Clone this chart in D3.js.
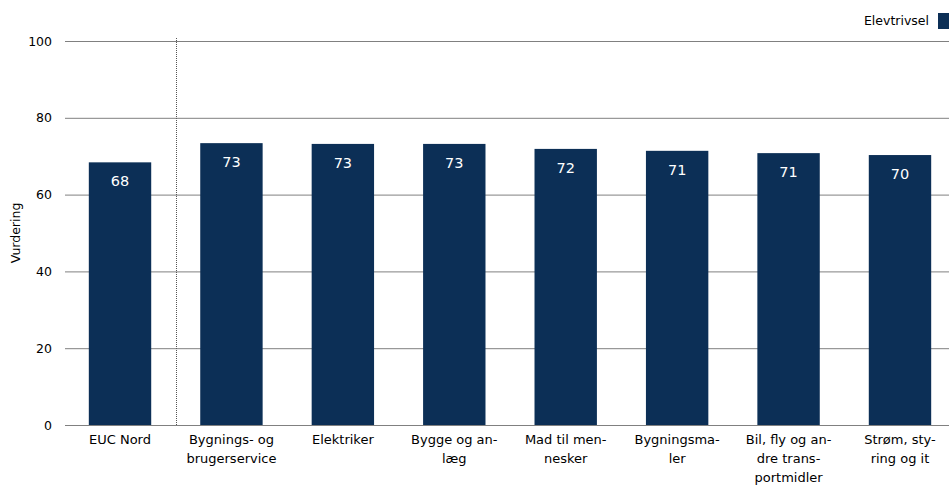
<!DOCTYPE html>
<html lang="da">
<head>
  <meta charset="UTF-8">
  <title>Elevtrivsel</title>
</head>
<body style="margin:0;background:#fff">
<style>
  text { font-family: "DejaVu Sans", sans-serif; }
</style>
<script src="https://d3js.org/d3.v7.min.js"></script>
<script>
  // data
  var categories = [
    ["EUC Nord"],
    ["Bygnings- og", "brugerservice"],
    ["Elektriker"],
    ["Bygge og an-", "læg"],
    ["Mad til men-", "nesker"],
    ["Bygningsma-", "ler"],
    ["Bil, fly og an-", "dre trans-", "portmidler"],
    ["Strøm, sty-", "ring og it"]
  ];
  var values = [68.4, 73.4, 73.2, 73.2, 71.9, 71.4, 70.8, 70.3];
  var labels = ["68", "73", "73", "73", "72", "71", "71", "70"];
  var yTicks = [0, 20, 40, 60, 80, 100];
  var seriesName = "Elevtrivsel";

  var w = 949, h = 487;
  var barColor = "#0c2f56";

  var svg = d3.select("body").append("svg")
    .attr("width", w)
    .attr("height", h);

  var keys = d3.range(categories.length);

  var x = d3.scaleBand()
    .domain(keys)
    .range([64.3, 955.7])
    .paddingInner(0.44)
    .paddingOuter(0.22);

  var y = d3.scaleLinear()
    .domain([0, 100])
    .range([425, 41]);

  // gridlines
  svg.append("g")
    .selectAll("line")
    .data(yTicks)
    .enter()
    .append("line")
    .attr("x1", 65)
    .attr("x2", w)
    .attr("y1", d => y(d) + 0.5)
    .attr("y2", d => y(d) + 0.5)
    .attr("stroke", "#808080")
    .attr("stroke-width", 1);

  // y tick labels
  svg.append("g")
    .selectAll("text")
    .data(yTicks)
    .enter()
    .append("text")
    .attr("x", 52)
    .attr("y", d => y(d) + 4.5)
    .attr("text-anchor", "end")
    .attr("font-size", "12.5px")
    .attr("fill", "#000")
    .text(d => d);

  // y axis title
  svg.append("text")
    .attr("transform", "translate(20," + 233 + ") rotate(-90)")
    .attr("text-anchor", "middle")
    .attr("font-size", "12.5px")
    .attr("fill", "#000")
    .text("Vurdering");

  // dotted separator between EUC Nord and the rest
  var sepX = (x(0) + x.bandwidth() + x(1)) / 2;
  svg.append("line")
    .attr("x1", Math.round(sepX) + 0.5)
    .attr("x2", Math.round(sepX) + 0.5)
    .attr("y1", 38)
    .attr("y2", y(0))
    .attr("stroke", "#555")
    .attr("stroke-width", 1)
    .attr("stroke-dasharray", "1,1");

  // bars
  svg.append("g")
    .selectAll("rect")
    .data(keys)
    .enter()
    .append("rect")
    .attr("x", d => x(d))
    .attr("y", d => y(values[d]))
    .attr("width", x.bandwidth())
    .attr("height", d => y(0) - y(values[d]))
    .attr("fill", barColor);

  // value labels
  svg.append("g")
    .selectAll("text")
    .data(keys)
    .enter()
    .append("text")
    .attr("x", d => x(d) + x.bandwidth() / 2)
    .attr("y", d => y(values[d]) + 24)
    .attr("text-anchor", "middle")
    .attr("font-size", "14.5px")
    .attr("fill", "#fff")
    .text(d => labels[d]);

  // category labels
  var cats = svg.append("g")
    .selectAll("text")
    .data(keys)
    .enter()
    .append("text")
    .attr("text-anchor", "middle")
    .attr("font-size", "13px")
    .attr("fill", "#000");

  cats.selectAll("tspan")
    .data(d => categories[d].map(s => ({k: d, s: s})))
    .enter()
    .append("tspan")
    .attr("x", d => x(d.k) + x.bandwidth() / 2)
    .attr("y", (d, i) => 444 + i * 19)
    .text(d => d.s);

  // legend
  svg.append("rect")
    .attr("x", 938)
    .attr("y", 13)
    .attr("width", 11)
    .attr("height", 16)
    .attr("fill", barColor);

  svg.append("text")
    .attr("x", 929)
    .attr("y", 25)
    .attr("text-anchor", "end")
    .attr("font-size", "12.5px")
    .attr("fill", "#000")
    .text(seriesName);
</script>
</body>
</html>
